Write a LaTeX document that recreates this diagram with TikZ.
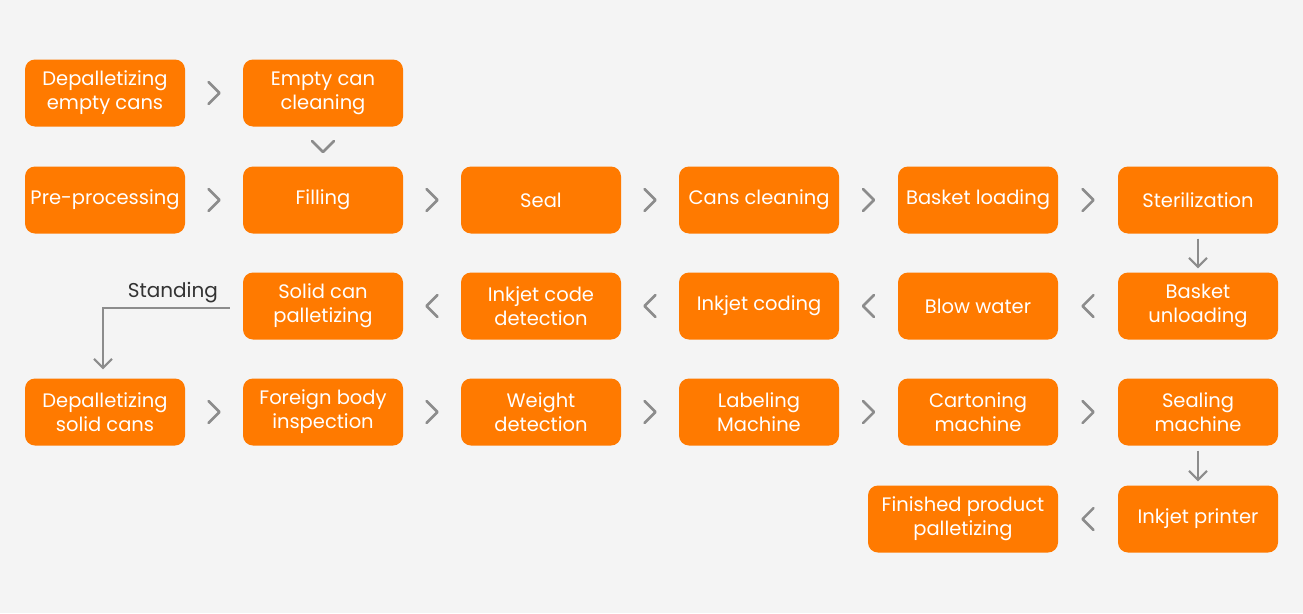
\documentclass[tikz,border=0pt]{standalone}
\usepackage{fontspec}
\setmainfont{Poppins}
\usetikzlibrary{calc, positioning, arrows.meta}
\definecolor{boxorange}{HTML}{FF7A00}
\definecolor{pagegray}{HTML}{F4F4F4}
\definecolor{chevgray}{HTML}{8C8C8C}
\definecolor{labelgray}{HTML}{333333}

\tikzset{
  stepbox/.style={fill=boxorange, text=white, rounded corners=10pt,
    minimum width=160pt, minimum height=67pt, inner sep=2pt,
    align=center, font=\fontsize{19.5}{24}\selectfont},
  chev/.style={draw=chevgray, line width=2.5pt, line cap=round, line join=round},
  flowarrow/.style={draw=chevgray, line width=2pt,
    -{Straight Barb[length=9pt, width=18pt, line width=2pt]}}
}

% small chevrons sitting between two boxes
\newcommand{\chevright}[2]{\draw[chev] ($(#1.east)!0.5!(#2.west)$) +(-5.5pt,11pt) -- +(5.5pt,0pt) -- +(-5.5pt,-11pt);}
\newcommand{\chevleft}[2]{\draw[chev] ($(#1.west)!0.5!(#2.east)$) +(5.5pt,11pt) -- +(-5.5pt,0pt) -- +(5.5pt,-11pt);}
\newcommand{\chevdown}[2]{\draw[chev] ($(#1.south)!0.5!(#2.north)$) +(-11pt,5.5pt) -- +(0pt,-5.5pt) -- +(11pt,5.5pt);}

\begin{document}
\begin{tikzpicture}[x=1pt, y=-1pt]
  \fill[pagegray] (0,0) rectangle (1303,613);
  \useasboundingbox (0,0) rectangle (1303,613);

  % first row
  \node[stepbox] (dep1) at (105,93) {Depalletizing\\empty cans};
  \node[stepbox] (empty) at (323,93) {Empty can\\cleaning};

  % second row
  \node[stepbox] (pre) at (105,200) {Pre-processing};
  \node[stepbox] (fill) at (323,200) {Filling};
  \node[stepbox] (seal) at (541,200) {Seal};
  \node[stepbox] (cclean) at (759,200) {Cans cleaning};
  \node[stepbox] (bload) at (978,200) {Basket loading};
  \node[stepbox] (steril) at (1198,200) {Sterilization};

  % third row, runs right to left
  \node[stepbox] (solidpal) at (323,306) {Solid can\\palletizing};
  \node[stepbox] (inkdet) at (541,306) {Inkjet code\\detection};
  \node[stepbox] (inkcod) at (759,306) {Inkjet coding};
  \node[stepbox] (blow) at (978,306) {Blow water};
  \node[stepbox] (bunload) at (1198,306) {Basket\\unloading};

  % fourth row
  \node[stepbox] (depsolid) at (105,412) {Depalletizing\\solid cans};
  \node[stepbox] (foreign) at (323,412) {Foreign body\\inspection};
  \node[stepbox] (weight) at (541,412) {Weight\\detection};
  \node[stepbox] (label) at (759,412) {Labeling\\Machine};
  \node[stepbox] (carton) at (978,412) {Cartoning\\machine};
  \node[stepbox] (sealm) at (1198,412) {Sealing\\machine};

  % last row
  \node[stepbox, minimum width=190pt] (finished) at (963,519) {Finished product\\palletizing};
  \node[stepbox] (printer) at (1198,519) {Inkjet printer};

  \foreach \a/\b in {dep1/empty, pre/fill, fill/seal, seal/cclean, cclean/bload, bload/steril,
      depsolid/foreign, foreign/weight, weight/label, label/carton, carton/sealm}
    \chevright{\a}{\b};
  \foreach \a/\b in {bunload/blow, blow/inkcod, inkcod/inkdet, inkdet/solidpal, printer/finished}
    \chevleft{\a}{\b};
  \chevdown{empty}{fill};

  \draw[flowarrow, shorten <=5pt, shorten >=4pt] (steril) -- (bunload);
  \draw[flowarrow, shorten <=5pt, shorten >=4pt] (sealm) -- (printer);

  \draw[flowarrow, shorten <=13pt, shorten >=9pt] ([yshift=-2pt]solidpal.west) -| ([xshift=-2pt]depsolid.north)
    node[pos=0.25, above=1pt, text=labelgray, font=\fontsize{20}{24}\selectfont] {Standing};
\end{tikzpicture}
\end{document}
